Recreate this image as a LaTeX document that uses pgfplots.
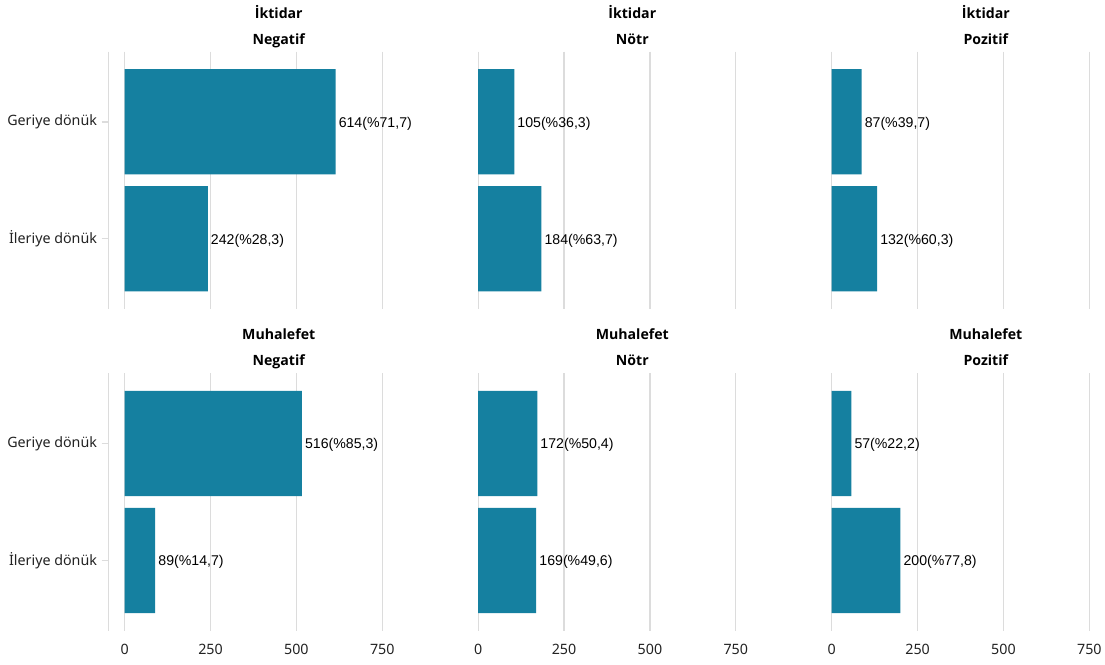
\documentclass[border=0pt]{standalone}
\usepackage{fontspec}
\setmainfont{Noto Sans}
\newfontfamily\stripfont{Open Sans}
\newfontfamily\labelfont{Liberation Sans}
\usepackage{pgfplots}
\pgfplotsset{compat=1.18}
\definecolor{barc}{HTML}{1580A0}
\definecolor{gridc}{HTML}{DCDCDC}
\definecolor{txt}{HTML}{222222}
\pgfplotsset{
 panel/.style={scale only axis, width=255.75pt, height=193pt,
  xmin=-47.7, xmax=945, ymin=0.4, ymax=2.6, y dir=reverse,
  xbar, bar width=0.9, bar shift=0pt,
  xtick={0,250,500,750}, ytick={1,2},
  xmajorgrids, grid style={draw=gridc, line width=1pt},
  axis x line*=bottom, axis y line*=left,
  x axis line style={draw=none}, y axis line style={draw=none},
  tick align=outside, major tick length=4.95pt,
  xtick style={draw=none}, ytick style={draw=none},
  xticklabels={}, yticklabels={},
  tick label style={font=\fontsize{10.7}{12}\selectfont, text=txt},
  xticklabel style={yshift=-1.4pt},
  anchor=south west, clip=false,
  nodes near coords={\pgfplotspointmeta}, point meta=explicit symbolic,
  nodes near coords style={font=\labelfont\fontsize{10.6}{12}\selectfont, text=black, anchor=west, inner sep=0pt, xshift=2.2pt, yshift=-1.3pt},
 },
 leftcol/.style={y axis line style={draw=gridc, line width=1pt},
  ytick style={draw=gridc, line width=1pt},
  yticklabels={Geriye dönük, İleriye dönük}},
 botrow/.style={xticklabels={0,250,500,750}},
}
\newcommand{\strip}[2]{%
 \node[anchor=base, font=\stripfont\bfseries\fontsize{10.6}{12}\selectfont, text=black, yshift=5.55pt, inner sep=0pt] at (axis description cs:0.5,1) {#2};
 \node[anchor=base, font=\stripfont\bfseries\fontsize{10.6}{12}\selectfont, text=black, yshift=25.05pt, inner sep=0pt] at (axis description cs:0.5,1) {#1};
}
\begin{document}
\begin{tikzpicture}
\path[use as bounding box] (0,0) rectangle (828.75pt,498pt);
% top row
\begin{axis}[panel, leftcol, at={(81.2pt,266.25pt)}]
\addplot[fill=barc, draw=none] coordinates {(614,1) [614(\%71,7)] (242,2) [242(\%28,3)]};
\strip{İktidar}{Negatif}
\end{axis}
\begin{axis}[panel, at={(346.35pt,266.25pt)}]
\addplot[fill=barc, draw=none] coordinates {(105,1) [105(\%36,3)] (184,2) [184(\%63,7)]};
\strip{İktidar}{Nötr}
\end{axis}
\begin{axis}[panel, at={(611.5pt,266.25pt)}]
\addplot[fill=barc, draw=none] coordinates {(87,1) [87(\%39,7)] (132,2) [132(\%60,3)]};
\strip{İktidar}{Pozitif}
\end{axis}
% bottom row
\begin{axis}[panel, leftcol, botrow, at={(81.2pt,24.98pt)}]
\addplot[fill=barc, draw=none] coordinates {(516,1) [516(\%85,3)] (89,2) [89(\%14,7)]};
\strip{Muhalefet}{Negatif}
\end{axis}
\begin{axis}[panel, botrow, at={(346.35pt,24.98pt)}]
\addplot[fill=barc, draw=none] coordinates {(172,1) [172(\%50,4)] (169,2) [169(\%49,6)]};
\strip{Muhalefet}{Nötr}
\end{axis}
\begin{axis}[panel, botrow, at={(611.5pt,24.98pt)}]
\addplot[fill=barc, draw=none] coordinates {(57,1) [57(\%22,2)] (200,2) [200(\%77,8)]};
\strip{Muhalefet}{Pozitif}
\end{axis}
\end{tikzpicture}
\end{document}
